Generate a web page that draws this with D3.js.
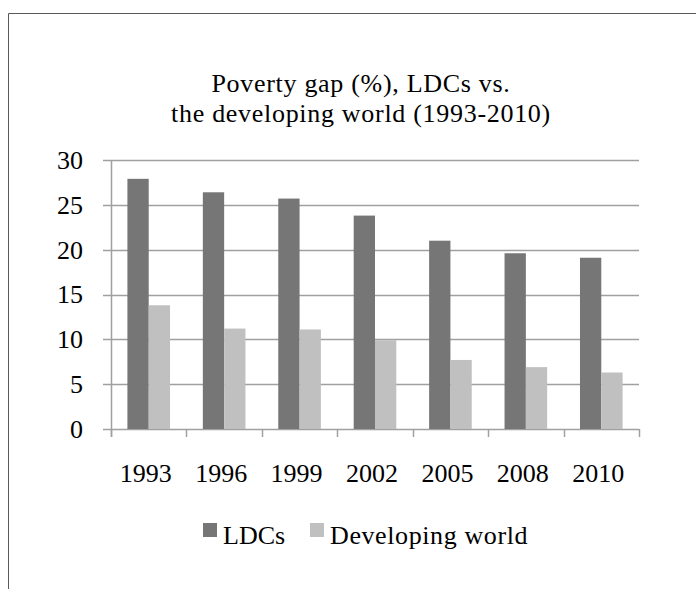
<!DOCTYPE html>
<html>
<head>
<meta charset="utf-8">
<script src="https://cdn.jsdelivr.net/npm/d3@7"></script>
<style>
  body { margin: 0; background: #fff; }
  text { font-family: "Liberation Serif", "Times New Roman", serif; fill: #000; }
</style>
</head>
<body>
<script>
// data
const years = ["1993", "1996", "1999", "2002", "2005", "2008", "2010"];
const ldcs = [27.9, 26.4, 25.7, 23.8, 21.0, 19.6, 19.1];
const developing = [13.8, 11.2, 11.1, 9.9, 7.7, 6.9, 6.3];
const seriesNames = ["LDCs", "Developing world"];
const seriesColors = ["#767676", "#c0c0c0"];
const yTicks = [0, 5, 10, 15, 20, 25, 30];

const width = 696, height = 589;
const margin = { left: 111, right: 57, top: 160, bottom: 160 };
const plotW = width - margin.left - margin.right,
  plotH = 429 - margin.top;

const svg = d3.select("body").append("svg")
  .attr("width", width)
  .attr("height", height);

// frame: only top and left edges show
svg.append("line").attr("x1", 8.5).attr("y1", 13.5).attr("x2", width).attr("y2", 13.5)
  .attr("stroke", "#595959").attr("stroke-width", 1);
svg.append("line").attr("x1", 8.5).attr("y1", 13.5).attr("x2", 8.5).attr("y2", height)
  .attr("stroke", "#595959").attr("stroke-width", 1);

// title
const title = svg.append("text")
  .attr("x", 361)
  .attr("text-anchor", "middle")
  .style("font-size", "26px")
  .style("letter-spacing", "0.7px");
title.append("tspan").attr("x", 361).attr("y", 92).text("Poverty gap (%), LDCs vs.");
title.append("tspan").attr("x", 361).attr("y", 122).text("the developing world (1993-2010)");

const g = svg.append("g").attr("transform", `translate(${margin.left},${margin.top})`);

const x = d3.scaleBand().domain(years).range([0, plotW])
  .paddingInner(0.435).paddingOuter(0.2175);
const xs = d3.scaleBand().domain(seriesNames).range([0, x.bandwidth()]);
const y = d3.scaleLinear().domain([0, 30]).range([plotH, 0]);

const gridColor = "#a0a0a0";

// gridlines + y ticks
g.append("g").selectAll("line")
  .data(yTicks)
  .join("line")
  .attr("x1", -8).attr("x2", plotW)
  .attr("y1", d => Math.round(y(d)) + 0.5).attr("y2", d => Math.round(y(d)) + 0.5)
  .attr("stroke", gridColor).attr("stroke-width", 1.5);

// y axis line
g.append("line").attr("x1", 0.5).attr("x2", 0.5).attr("y1", 0).attr("y2", plotH + 8)
  .attr("stroke", gridColor).attr("stroke-width", 1.5);

// x ticks at category boundaries
const bounds = years.map(d => x(d) - x.step() * x.paddingInner() / 2).concat([plotW]);
g.append("g").selectAll("line")
  .data(bounds)
  .join("line")
  .attr("x1", d => Math.round(d) + 0.5).attr("x2", d => Math.round(d) + 0.5)
  .attr("y1", plotH).attr("y2", plotH + 8)
  .attr("stroke", gridColor).attr("stroke-width", 1.5);

// y labels
g.append("g").selectAll("text")
  .data(yTicks)
  .join("text")
  .attr("x", -28)
  .attr("y", d => y(d))
  .attr("dy", "0.34em")
  .attr("text-anchor", "end")
  .style("font-size", "26px")
  .text(d => d);

// bars
const rows = years.map((yr, i) => ({ year: yr, vals: [ldcs[i], developing[i]] }));
g.append("g").selectAll("g")
  .data(rows)
  .join("g")
  .attr("transform", d => `translate(${x(d.year)},0)`)
  .selectAll("rect")
  .data(d => d.vals.map((v, j) => ({ name: seriesNames[j], v: v, c: seriesColors[j] })))
  .join("rect")
  .attr("x", d => xs(d.name))
  .attr("width", xs.bandwidth())
  .attr("y", d => y(d.v))
  .attr("height", d => plotH - y(d.v))
  .attr("fill", d => d.c);

// x labels
g.append("g").selectAll("text")
  .data(years)
  .join("text")
  .attr("x", d => x(d) + x.bandwidth() / 2 - 3)
  .attr("y", 482 - margin.top)
  .attr("text-anchor", "middle")
  .style("font-size", "26px")
  .text(d => d);

// legend
const legend = svg.append("g");
const legX = [203, 310];
seriesNames.forEach((name, i) => {
  legend.append("rect")
    .attr("x", legX[i]).attr("y", 523)
    .attr("width", 14).attr("height", 14)
    .attr("fill", seriesColors[i]);
  legend.append("text")
    .attr("x", legX[i] + 20).attr("y", 544)
    .style("font-size", "26px")
    .style("letter-spacing", i === 1 ? "0.6px" : "0px")
    .text(name);
});
</script>
</body>
</html>
